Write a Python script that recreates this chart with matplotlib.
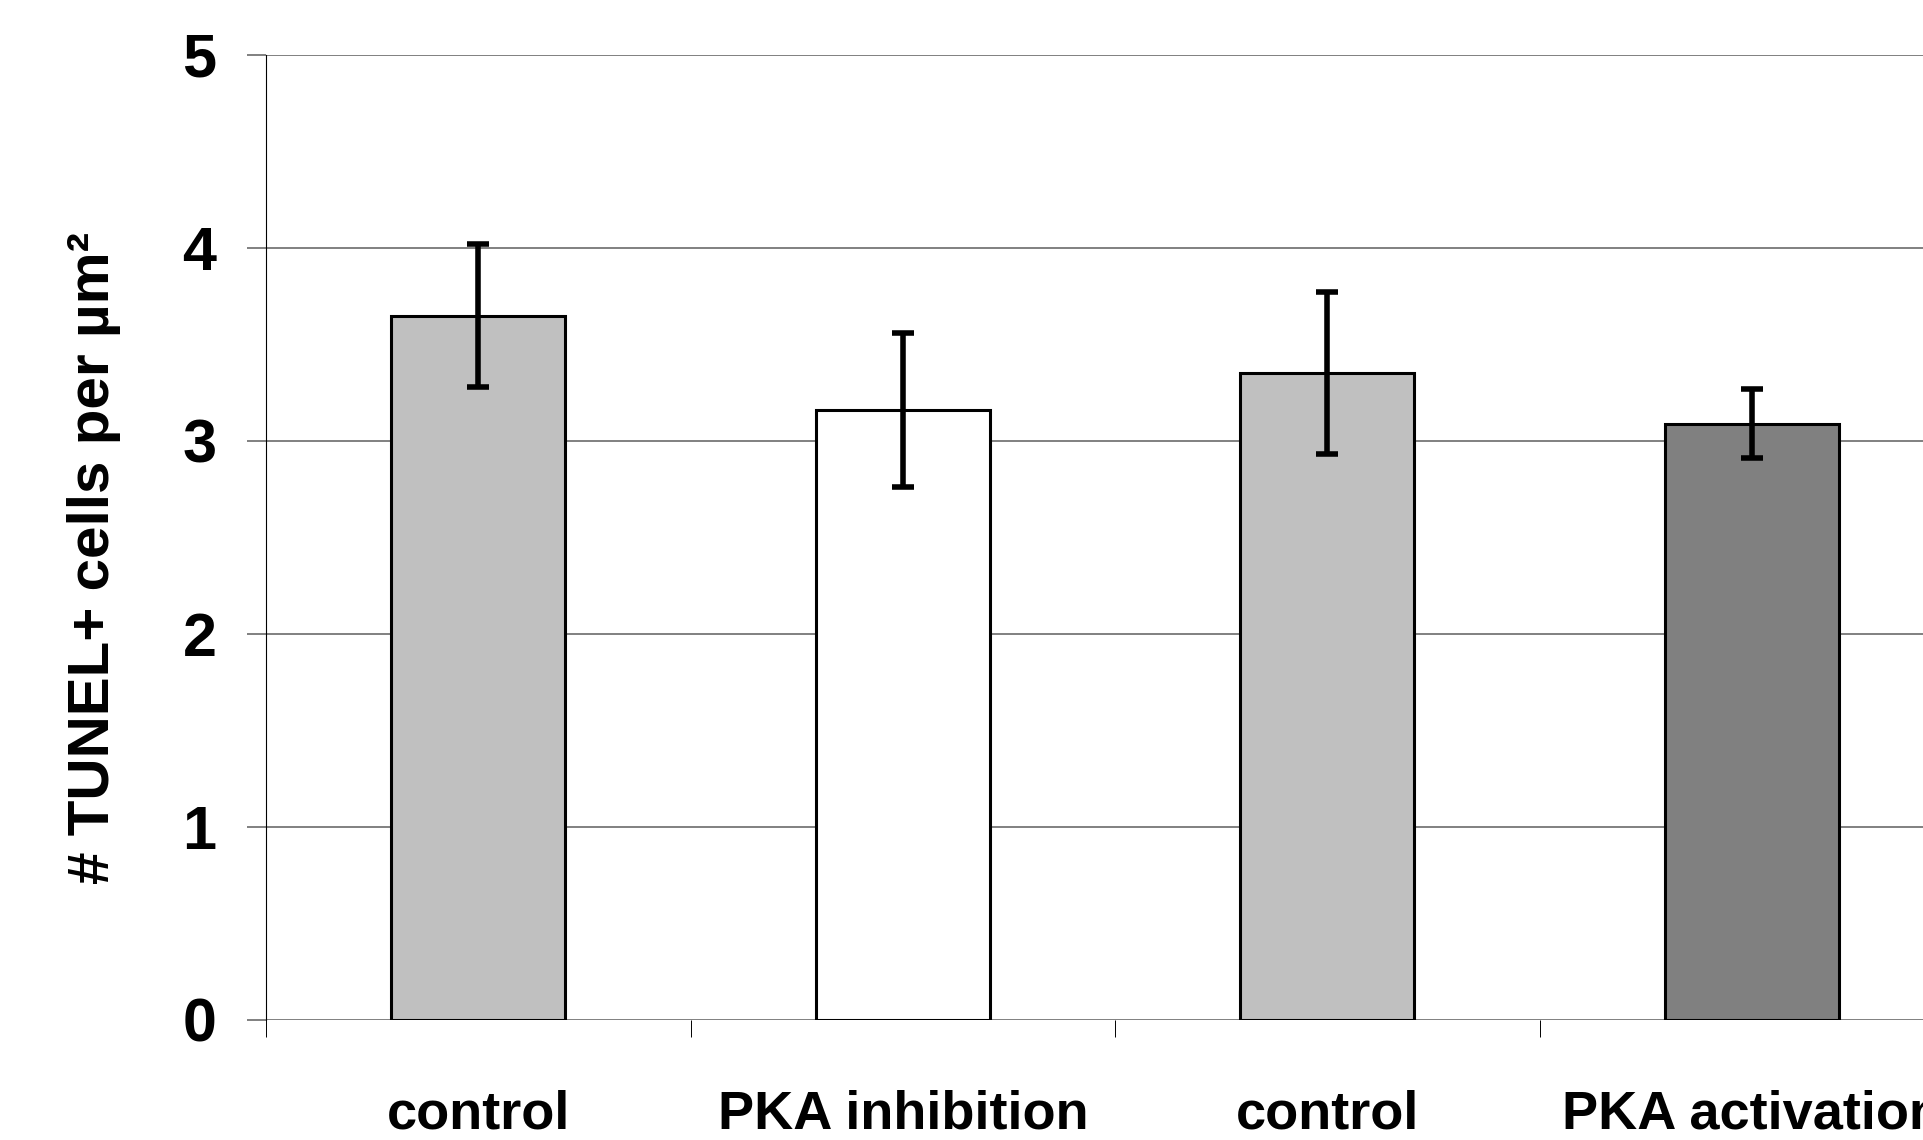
import matplotlib
matplotlib.use('Agg')
import matplotlib.pyplot as plt

# values
groups = ['control', 'PKA inhibition', 'control', 'PKA activation']
means = [3.65, 3.16, 3.35, 3.09]
errors = [0.37, 0.40, 0.42, 0.18]
colors = ['#C0C0C0', '#FFFFFF', '#C0C0C0', '#808080']

plt.rcParams['font.family'] = ['Liberation Sans', 'DejaVu Sans']
plt.rcParams['font.weight'] = 'bold'


def plot_bars():
    fig = plt.figure(figsize=(19.24, 11.40), dpi=100)
    # the plot area runs past the right edge, as in the original
    ax = fig.add_axes([0.1383, 0.1053, 0.8825, 0.8465])

    pos = list(range(len(groups)))
    ax.bar(pos, means, width=0.41, color=colors, edgecolor='black',
           linewidth=2.2, zorder=3)
    ax.errorbar(pos, means, yerr=errors, fmt='none', ecolor='black',
                elinewidth=4, capsize=8, capthick=4, zorder=4)

    ax.set_xlim(-0.5, len(groups) - 0.5)
    ax.set_ylim(0, 5)

    # y axis
    ax.set_yticks(range(6))
    ax.set_yticklabels([str(v) for v in range(6)], fontsize=44, fontweight='bold')
    ax.tick_params(axis='y', length=13.7, width=1.4, color='#808080', pad=22)
    ax.yaxis.grid(True, color='#808080', linewidth=1.4, zorder=0)
    ax.set_axisbelow(True)

    # x axis: labels at centres, tick marks between the groups
    ax.set_xticks(pos)
    ax.set_xticklabels(groups, fontsize=39, fontweight='bold')
    ax.tick_params(axis='x', which='major', length=0, pad=50)
    ax.set_xticks([p - 0.5 for p in pos] + [len(groups) - 0.5], minor=True)
    ax.tick_params(axis='x', which='minor', length=12, width=0.7,
                   color='black', direction='out')

    for side in ['top', 'right', 'bottom']:
        ax.spines[side].set_visible(False)
    ax.spines['left'].set_linewidth(0.8)
    ax.spines['left'].set_color('black')

    fig.text(0.0489, 0.5105, '# TUNEL+ cells per µm²', rotation=90,
             ha='center', va='center', fontsize=42, fontweight='bold')

    fig.savefig('out.png', dpi=100)


if __name__ == '__main__':
    plot_bars()
